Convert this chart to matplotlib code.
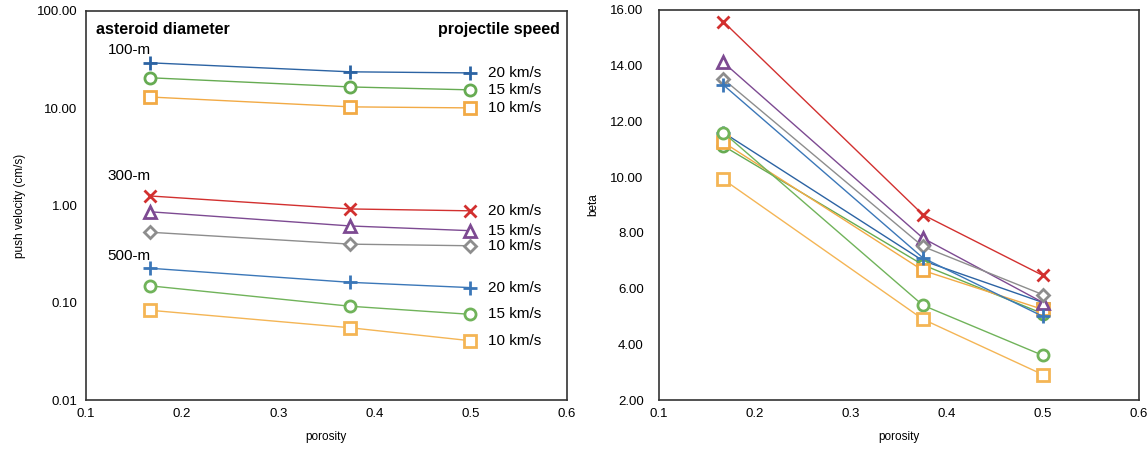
import matplotlib
matplotlib.use("Agg")
import matplotlib.pyplot as plt
from matplotlib.ticker import FixedLocator, FuncFormatter

plt.rcParams['font.family'] = ['Liberation Sans', 'DejaVu Sans']

porosity = [0.167, 0.375, 0.5]

# push velocity (cm/s), left panel
pv_100m_20 = [29.2, 23.6, 23.0]
pv_100m_15 = [20.5, 16.5, 15.4]
pv_100m_10 = [13.0, 10.3, 10.05]
pv_300m_20 = [1.25, 0.92, 0.88]
pv_300m_15 = [0.86, 0.615, 0.55]
pv_300m_10 = [0.53, 0.40, 0.385]
pv_500m_20 = [0.226, 0.162, 0.143]
pv_500m_15 = [0.149, 0.092, 0.076]
pv_500m_10 = [0.0836, 0.0553, 0.0407]

# beta, right panel
beta_100m_20 = [11.6, 7.0, 5.5]
beta_100m_15 = [11.12, 6.85, 5.1]
beta_100m_10 = [11.25, 6.65, 5.25]
beta_300m_20 = [15.58, 8.65, 6.47]
beta_300m_15 = [14.12, 7.81, 5.5]
beta_300m_10 = [13.52, 7.51, 5.78]
beta_500m_20 = [13.31, 7.1, 5.0]
beta_500m_15 = [11.6, 5.4, 3.6]
beta_500m_10 = [9.92, 4.9, 2.91]

diameters = ["100-m", "300-m", "500-m"]
speeds = ["20 km/s", "15 km/s", "10 km/s"]
left_yticks = [0.01, 0.1, 1, 10, 100]
right_yticks = [2, 4, 6, 8, 10, 12, 14, 16]
xticks = [0.1, 0.2, 0.3, 0.4, 0.5, 0.6]

styles = [
    dict(color='#2c63a3', marker='+', ms=10, mew=2.0),
    dict(color='#66ab52', marker='o', ms=8, mew=2.0, mfc='white'),
    dict(color='#f2aa45', marker='s', ms=8, mew=2.0, mfc='white'),
    dict(color='#d2302f', marker='x', ms=9, mew=2.0),
    dict(color='#7d4a92', marker='^', ms=8, mew=2.0, mfc='white'),
    dict(color='#8d8d8d', marker='D', ms=6, mew=2.0, mfc='white'),
    dict(color='#3b77b8', marker='+', ms=10, mew=2.0),
    dict(color='#70b35a', marker='o', ms=8, mew=2.0, mfc='white'),
    dict(color='#f4b555', marker='s', ms=8, mew=2.0, mfc='white'),
]

pv_series = [pv_100m_20, pv_100m_15, pv_100m_10,
             pv_300m_20, pv_300m_15, pv_300m_10,
             pv_500m_20, pv_500m_15, pv_500m_10]
beta_series = [beta_100m_20, beta_100m_15, beta_100m_10,
               beta_300m_20, beta_300m_15, beta_300m_10,
               beta_500m_20, beta_500m_15, beta_500m_10]

fig = plt.figure(figsize=(11.47, 4.5), dpi=100)
ax1 = fig.add_axes([0.075, 0.111, 0.419, 0.865])
ax2 = fig.add_axes([0.5745, 0.111, 0.4185, 0.867])

for s, st in zip(pv_series, styles):
    ax1.plot(porosity, s, lw=1.0, **st)
for s, st in zip(beta_series, styles):
    ax2.plot(porosity, s, lw=1.0, **st)

ax1.set_yscale('log')
ax1.set_ylim(0.01, 100)
ax1.yaxis.set_major_locator(FixedLocator(left_yticks))
ax1.yaxis.set_minor_locator(FixedLocator([]))
ax1.yaxis.set_major_formatter(FuncFormatter(lambda v, p: f"{v:.2f}"))
ax2.set_ylim(2, 16)
ax2.set_yticks(right_yticks)
ax2.yaxis.set_major_formatter(FuncFormatter(lambda v, p: f"{v:.2f}"))

for ax in (ax1, ax2):
    ax.set_xlim(0.1, 0.6)
    ax.set_xticks(xticks)
    ax.xaxis.set_major_formatter(FuncFormatter(lambda v, p: f"{v:.1f}"))
    ax.tick_params(length=0, labelsize=9.5, pad=6)
    for sp in ax.spines.values():
        sp.set_linewidth(1.2)
        sp.set_color('#333333')
    ax.set_xlabel('porosity', fontsize=8.5, labelpad=8)
ax2.tick_params(axis='y', pad=11)

ax1.set_ylabel('push velocity (cm/s)', fontsize=8.5, labelpad=8)
ax2.set_ylabel('beta', fontsize=8.5, labelpad=8)

ax1.text(0.02, 0.97, 'asteroid diameter', transform=ax1.transAxes,
         fontsize=11.5, fontweight='bold', va='top', ha='left')
ax1.text(0.985, 0.97, 'projectile speed', transform=ax1.transAxes,
         fontsize=11.5, fontweight='bold', va='top', ha='right')

group_first = [pv_100m_20, pv_300m_20, pv_500m_20]
for name, s, yoff in zip(diameters, group_first, [1.36, 1.6, 1.33]):
    ax1.text(0.145, s[0] * yoff, name, fontsize=11, ha='center', va='center')

for i, s in enumerate(pv_series):
    ax1.text(0.518, s[-1], speeds[i % 3], fontsize=11, ha='left', va='center')

fig.savefig('out.png', dpi=100)
